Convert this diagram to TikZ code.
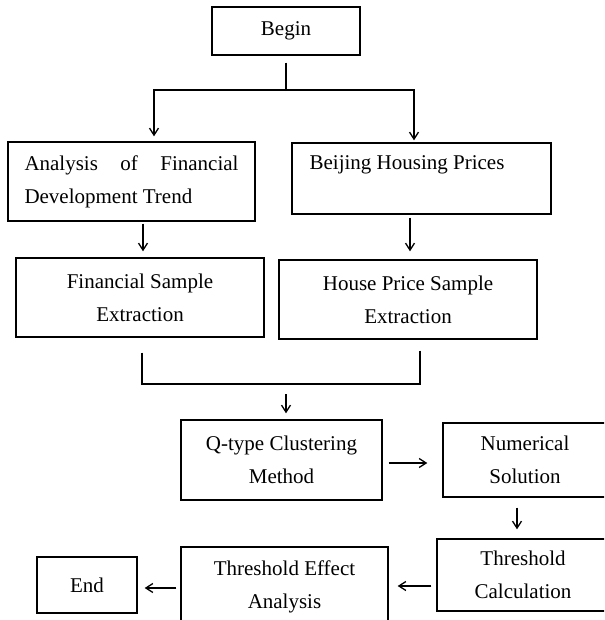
\documentclass[tikz,border=0pt]{standalone}
\usepackage{fontspec}
\setmainfont{Liberation Serif}
\usetikzlibrary{arrows.meta}
\tikzset{
  box/.style={draw, line width=1.4pt, inner sep=0pt, align=center, font=\fontsize{21}{33}\selectfont},
  txt/.style={inner sep=0pt, align=center, font=\fontsize{21}{33}\selectfont},
  conn/.style={line width=1.3pt},
  arr/.style={conn, -{Straight Barb[length=7pt,width=9pt,line width=1.3pt]}}
}
\begin{document}
\begin{tikzpicture}[x=1pt,y=-1pt]
\useasboundingbox (0,0) rectangle (604,620);
\fill[white] (0,0) rectangle (604,620);
\clip (0,0) rectangle (604,620);
% boxes
\node[box, minimum width=148pt, minimum height=48pt] (begin) at (286,31) {Begin};
\node[box, minimum width=247pt, minimum height=79pt, align=left] (ana) at (131.5,181.5)
  {\makebox[214pt][s]{Analysis of Financial}\\Development Trend};
\node[box, minimum width=259pt, minimum height=71pt] (bj) at (421.5,178.5) {};
\node[txt] (bjt) at (407,165) {Beijing Housing Prices};
\node[box, minimum width=248pt, minimum height=79pt] (fin) at (140,297.5) {Financial Sample\\Extraction};
\node[box, minimum width=258pt, minimum height=79pt] (house) at (408,299.5) {House Price Sample\\Extraction};
\node[box, minimum width=201pt, minimum height=80pt] (q) at (281.5,460) {Q-type Clustering\\Method};
\node[box, minimum width=164pt, minimum height=74pt] (num) at (525,460) {Numerical\\Solution};
\node[box, minimum width=172pt, minimum height=72pt] (thr) at (523,575) {Threshold\\Calculation};
\node[box, minimum width=207pt, minimum height=79pt] (eff) at (284.5,586.5) {Threshold Effect\\Analysis};
\node[box, minimum width=100pt, minimum height=56pt] (end) at (87,585) {End};
% junctions
\coordinate (j1) at (286,90);
\coordinate (j2) at (286,384);
% connectors
\draw[conn, shorten <=7pt] (begin) -- (j1);
\draw[arr, shorten >=5pt] (j1) -| ([xshift=22.5pt]ana.north);
\draw[arr, shorten >=2pt] (j1) -| ([xshift=-7.5pt]bj.north);
\draw[arr, shorten <=2pt, shorten >=6pt] ([xshift=11.5pt]ana.south) -- ([xshift=11.5pt]ana.south |- fin.north);
\draw[arr, shorten <=3pt, shorten >=8pt] ([xshift=-11.5pt]bj.south) -- ([xshift=-11.5pt]bj.south |- house.north);
\draw[conn, shorten <=15pt] ([xshift=2pt]fin.south) |- (j2);
\draw[conn, shorten <=11pt] ([xshift=12pt]house.south) |- (j2);
\draw[arr, shorten <=10pt, shorten >=6pt] (j2) -- (j2 |- q.north);
\draw[arr, shorten <=6pt, shorten >=15pt] ([yshift=-3pt]q.east) -- ([yshift=-3pt]q.east -| num.west);
\draw[arr, shorten <=10pt, shorten >=9pt] ([xshift=-8pt]num.south) -- ([xshift=-8pt]num.south |- thr.north);
\draw[arr, shorten <=5pt, shorten >=9pt] ([yshift=-11pt]thr.west) -- ([yshift=-11pt]thr.west -| eff.east);
\draw[arr, shorten <=4pt, shorten >=7pt] ([yshift=-1.5pt]eff.west) -- ([yshift=-1.5pt]eff.west -| end.east);
\end{tikzpicture}
\end{document}
